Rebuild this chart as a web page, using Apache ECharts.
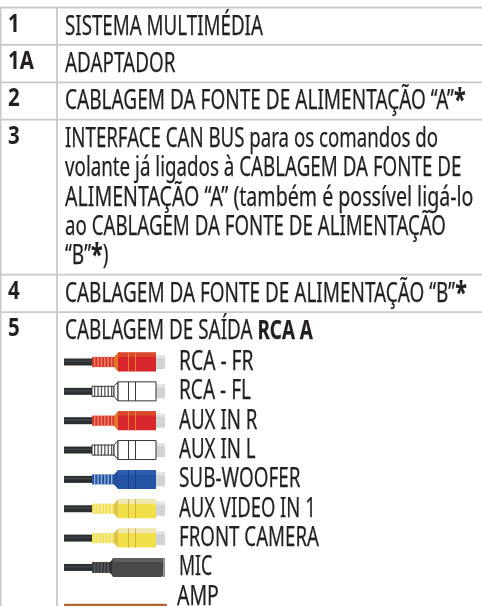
<!DOCTYPE html>
<html>
<head>
<meta charset="utf-8">
<style>
  html, body { margin: 0; padding: 0; background: #fff; }
  #chart { width: 482px; height: 606px; }
</style>
</head>
<body>
<div id="chart"></div>
<script src="https://cdn.jsdelivr.net/npm/echarts@6/dist/echarts.min.js"></script>
<script>
// table content
const rowLabels = ["1", "1A", "2", "3", "4", "5"];
const rowTexts = [
  ["SISTEMA MULTIMÉDIA"],
  ["ADAPTADOR"],
  ["CABLAGEM DA FONTE DE ALIMENTAÇÃO “A”{a|*}"],
  [
    "INTERFACE CAN BUS para os comandos do",
    "volante já ligados à CABLAGEM DA FONTE DE",
    "ALIMENTAÇÃO “A” (também é possível ligá-lo",
    "ao CABLAGEM DA FONTE DE ALIMENTAÇÃO",
    "“B”{a|*})",
  ],
  ["CABLAGEM DA FONTE DE ALIMENTAÇÃO “B”{a|*}"],
  ["CABLAGEM DE SAÍDA {b|RCA A}"],
];
const connectorLabels = [
  "RCA - FR",
  "RCA - FL",
  "AUX IN R",
  "AUX IN L",
  "SUB-WOOFER",
  "AUX VIDEO IN 1",
  "FRONT CAMERA",
  "MIC",
  "AMP",
];
const connectorTypes = ["red", "white", "red", "white", "blue", "yellow", "yellow", "mic", "amp"];

// layout, in page pixels
const TABLE_TOP = 7.5;
const COL_X = 57;
const TEXT_X = 65;
const LABEL_X = 8;
const ROW_PAD = 37.4;
const LINE_STEP = 29.4;
const TEXT_LINE = 29.4;
const CONN_TOP = 362;
const CONN_STEP = 29.35;

// horizontal squeeze of each text line, the font has no condensed cut
const rowSqueeze = [[0.707], [0.712], [0.718], [0.704, 0.708, 0.739, 0.705, 0.72], [0.715], [0.712]];
const connectorSqueeze = [0.726, 0.72, 0.705, 0.705, 0.713, 0.696, 0.705, 0.67, 0.735];

const LINE_COLOR = "#c8c9cb";
const INK = "#231f20";
const FONT = '"Noto Sans", sans-serif';
const TEXT_FONT = `400 26.5px ${FONT}`;
const BOLD_FONT = `700 26.5px ${FONT}`;

const PALETTE = {
  red: { body: "#d7262c", top: "#d9492b", flare: "#e0752b", band: "#e8842c", rib: "#d8352c", ribLight: "#ee8a6a" },
  white: { body: "#ffffff", top: "#ffffff", flare: "#ffffff", band: "#3a3a3a", rib: "#ffffff", ribLight: "#555555", outline: "#333333" },
  blue: { body: "#2354a6", top: "#2f5fae", flare: "#234f9c", band: "#17407f", rib: "#2354a6", ribLight: "#9db4da" },
  yellow: { body: "#f1e04a", top: "#eee7b8", flare: "#e0c24e", band: "#d6ae45", rib: "#f1e04a", ribLight: "#f4eeb4" },
};

const rowEdges = [TABLE_TOP];
rowTexts.forEach((lines) => {
  rowEdges.push(rowEdges[rowEdges.length - 1] + ROW_PAD + (lines.length - 1) * LINE_STEP);
});

const richStyles = {
  a: { font: `700 30px ${FONT}`, fill: INK },
  b: { font: BOLD_FONT, fill: INK },
};

function rect(api, x, y, w, h, fill, extra) {
  const a = api.coord([x, y]);
  return {
    type: "rect",
    shape: { x: a[0], y: a[1], width: w, height: h, ...(extra && extra.r ? { r: extra.r } : {}) },
    style: { fill, stroke: extra && extra.stroke, lineWidth: extra && extra.stroke ? 1 : 0 },
  };
}

function poly(api, pts, fill, stroke) {
  return {
    type: "polygon",
    shape: { points: pts.map((p) => api.coord(p)) },
    style: { fill, stroke, lineWidth: stroke ? 1 : 0 },
  };
}

function textEl(x, y, text, squeeze) {
  return {
    type: "text",
    x,
    y,
    scaleX: squeeze,
    style: {
      text,
      font: TEXT_FONT,
      fill: INK,
      stroke: INK,
      lineWidth: 0.25,
      verticalAlign: "middle",
      rich: richStyles,
    },
  };
}

function cable(api, cy, x2) {
  return [
    rect(api, 64, cy - 3.5, x2 - 64, 7, "#2b2f31"),
    rect(api, 64, cy - 1.5, x2 - 64, 1.5, "#42474a"),
  ];
}

function rcaPlug(api, cy, p) {
  const out = cable(api, cy, 92);
  const stroke = p.outline;
  // tip
  out.push(rect(api, 156, cy - 7, 9, 14, "#d1d3d4"));
  out.push(rect(api, 156, cy - 7, 9, 3, "#e4e5e6"));
  // ribbed sleeve
  out.push(rect(api, 92, cy - 5, 22, 10, p.rib, stroke ? { stroke } : null));
  for (let x = 94; x < 114; x += 3.4) {
    out.push(rect(api, x, cy - 5.5, 1.3, 11, p.ribLight));
  }
  // flare
  out.push(poly(api, [[114, cy - 5], [118, cy - 9.5], [118, cy + 9.5], [114, cy + 5]], p.flare, stroke));
  // body
  out.push(rect(api, 118, cy - 9.5, 38, 19, p.body, stroke ? { stroke } : null));
  if (!stroke) out.push(rect(api, 118, cy - 9.5, 38, 4.5, p.top));
  out.push(rect(api, 128, cy - 9.5, 1, 19, p.band));
  out.push(rect(api, 135, cy - 9.5, 1, 19, p.band));
  return out;
}

function micPlug(api, cy) {
  const out = cable(api, cy, 92);
  out.push(rect(api, 92, cy - 5.5, 19, 11, "#3a3d40"));
  for (let x = 94; x < 110; x += 3.4) {
    out.push(rect(api, x, cy - 5.5, 1.2, 11, "#5c6063"));
  }
  out.push(poly(api, [[110, cy - 5.5], [114, cy - 9.5], [114, cy + 9.5], [110, cy + 5.5]], "#303336"));
  out.push(rect(api, 112, cy - 9.5, 51, 19, "#47494b", { r: 2 }));
  out.push(rect(api, 114, cy - 9.5, 49, 4, "#5d6062"));
  out.push(rect(api, 163, cy - 9.5, 2, 19, "#8f9193"));
  return out;
}

function renderTable(params, api) {
  const i = api.value(0);
  const children = [];
  const top = rowEdges[i];
  const a = api.coord([0, top]);
  const b = api.coord([482, top]);
  children.push({
    type: "line",
    shape: { x1: a[0], y1: a[1], x2: b[0], y2: b[1] },
    style: { stroke: LINE_COLOR, lineWidth: 1.8 },
  });
  children.push({
    type: "text",
    x: LABEL_X,
    y: api.coord([0, top + 17])[1],
    scaleX: 0.82,
    style: {
      text: rowLabels[i],
      font: `700 25px ${FONT}`,
      fill: INK,
      verticalAlign: "middle",
    },
  });
  rowTexts[i].forEach((line, n) => {
    const y = api.coord([0, top + 19.5 + n * TEXT_LINE])[1];
    children.push(textEl(TEXT_X, y, line, rowSqueeze[i][n]));
  });
  return { type: "group", children };
}

function renderConnector(params, api) {
  const i = api.value(0);
  const cy = CONN_TOP + i * CONN_STEP;
  const kind = connectorTypes[i];
  let children;
  if (kind === "mic") children = micPlug(api, cy);
  else if (kind === "amp") children = [rect(api, 64, cy + 7, 103, 6, "#b5652f", { r: 1 })];
  else children = rcaPlug(api, cy, PALETTE[kind]);
  const labelX = kind === "amp" ? 177 : 179;
  children.push(textEl(labelX, api.coord([0, cy + 0.5])[1], connectorLabels[i], connectorSqueeze[i]));
  return { type: "group", children };
}

function renderFrame(params, api) {
  const x = api.value(0);
  const a = api.coord([x, TABLE_TOP]);
  const b = api.coord([x, 606]);
  return {
    type: "line",
    shape: { x1: a[0], y1: a[1], x2: b[0], y2: b[1] },
    style: { stroke: LINE_COLOR, lineWidth: 1.8 },
  };
}

const chart = echarts.init(document.getElementById("chart"), null, { renderer: "canvas" });
chart.setOption({
  animation: false,
  backgroundColor: "#fff",
  grid: { left: 0, right: 0, top: 0, bottom: 0 },
  xAxis: { type: "value", min: 0, max: 482, show: false },
  yAxis: { type: "value", min: 0, max: 606, inverse: true, show: false },
  series: [
    {
      type: "custom",
      coordinateSystem: "cartesian2d",
      clip: true,
      silent: true,
      data: [[0.6], [COL_X]],
      renderItem: renderFrame,
    },
    {
      type: "custom",
      coordinateSystem: "cartesian2d",
      clip: true,
      silent: true,
      data: rowLabels.map((_, i) => [i]),
      renderItem: renderTable,
    },
    {
      type: "custom",
      coordinateSystem: "cartesian2d",
      clip: true,
      silent: true,
      data: connectorLabels.map((_, i) => [i]),
      renderItem: renderConnector,
    },
  ],
});
</script>
</body>
</html>
